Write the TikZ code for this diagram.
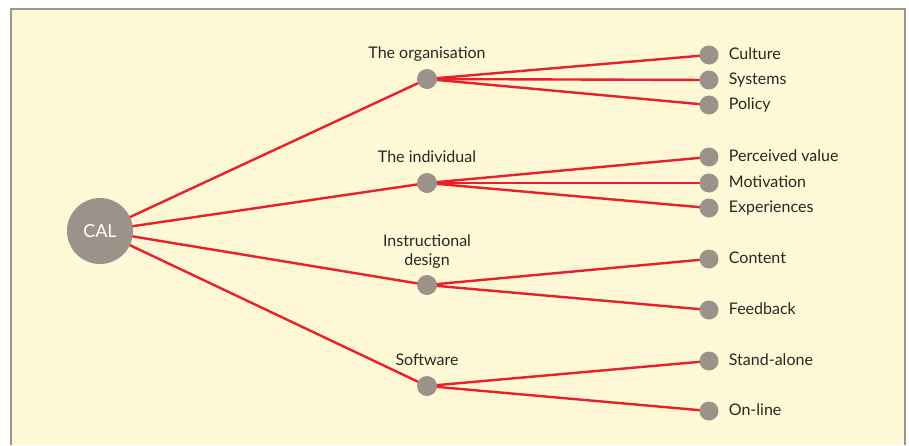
\documentclass[tikz,border=0pt]{standalone}
\usepackage{fontspec}
\setmainfont{Lato}
\usetikzlibrary{positioning,backgrounds}
\definecolor{paper}{HTML}{FFF8D6}
\definecolor{frame}{HTML}{9E968C}
\definecolor{dot}{HTML}{9C928A}
\definecolor{link}{HTML}{E8202A}
\definecolor{ink}{HTML}{2B2622}
\begin{document}
\begin{tikzpicture}[x=1pt,y=-1pt,
  hub/.style={circle,fill=dot,minimum size=66pt,inner sep=0pt,text=white,font=\fontsize{18}{20}\selectfont},
  branch/.style={circle,fill=dot,minimum size=20pt,inner sep=0pt},
  leaf/.style={circle,fill=dot,minimum size=19pt,inner sep=0pt},
  lbl/.style={text=ink,font=\fontsize{16}{19}\selectfont,text height=0.75em,text depth=0.22em,inner sep=2pt},
  link/.style={color=link,line width=2.4pt}]
\useasboundingbox (0,0) rectangle (909,445);
% hub and branches
\node[hub] (cal) at (100,231) {CAL};
\node[branch] (org) at (427,79) {};
\node[branch] (ind) at (427,183) {};
\node[branch] (ins) at (427,285) {};
\node[branch] (sw) at (427,386) {};
\node[lbl,above=6pt of org] (orglbl) {The organisation};
\node[lbl,above=6pt of ind] (indlbl) {The individual};
\node[lbl,above=5pt of ins,align=center] (inslbl) {Instructional\\design};
\node[lbl,above=6pt of sw] (swlbl) {Software};
% leaves
\node[leaf] (cul) at (709,55) {};
\node[leaf] (sys) at (709,80) {};
\node[leaf] (pol) at (709,105) {};
\node[leaf] (per) at (709,157) {};
\node[leaf] (mot) at (709,183) {};
\node[leaf] (exp) at (709,208) {};
\node[leaf] (con) at (709,259) {};
\node[leaf] (fee) at (709,310) {};
\node[leaf] (sta) at (709,361) {};
\node[leaf] (onl) at (709,411) {};
\node[lbl,right=8pt of cul,yshift=-2pt] {Culture};
\node[lbl,right=8pt of sys,yshift=-2pt] {Systems};
\node[lbl,right=8pt of pol,yshift=-2pt] {Policy};
\node[lbl,right=8pt of per,yshift=-2pt] {Perceived value};
\node[lbl,right=8pt of mot,yshift=-2pt] {Motivation};
\node[lbl,right=8pt of exp,yshift=-2pt] {Experiences};
\node[lbl,right=8pt of con,yshift=-2pt] {Content};
\node[lbl,right=8pt of fee,yshift=-2pt] {Feedback};
\node[lbl,right=8pt of sta,yshift=-2pt] {Stand-alone};
\node[lbl,right=8pt of onl,yshift=-2pt] {On-line};
% red links under the dots
\begin{scope}[on background layer]
\fill[paper] (11,9) rectangle (905,445);
\draw[frame,line width=2pt] (11,445) -- (11,9) -- (905,9) -- (905,445);
\draw[link] (cal.center) -- (org.center);
\draw[link] (cal.center) -- (ind.center);
\draw[link] (cal.center) -- (ins.center);
\draw[link] (cal.center) -- (sw.center);
\draw[link] (org.center) -- (cul.center);
\draw[link] (org.center) -- (sys.center);
\draw[link] (org.center) -- (pol.center);
\draw[link] (ind.center) -- (per.center);
\draw[link] (ind.center) -- (mot.center);
\draw[link] (ind.center) -- (exp.center);
\draw[link] (ins.center) -- (con.center);
\draw[link] (ins.center) -- (fee.center);
\draw[link] (sw.center) -- (sta.center);
\draw[link] (sw.center) -- (onl.center);
\end{scope}
\end{tikzpicture}
\end{document}
